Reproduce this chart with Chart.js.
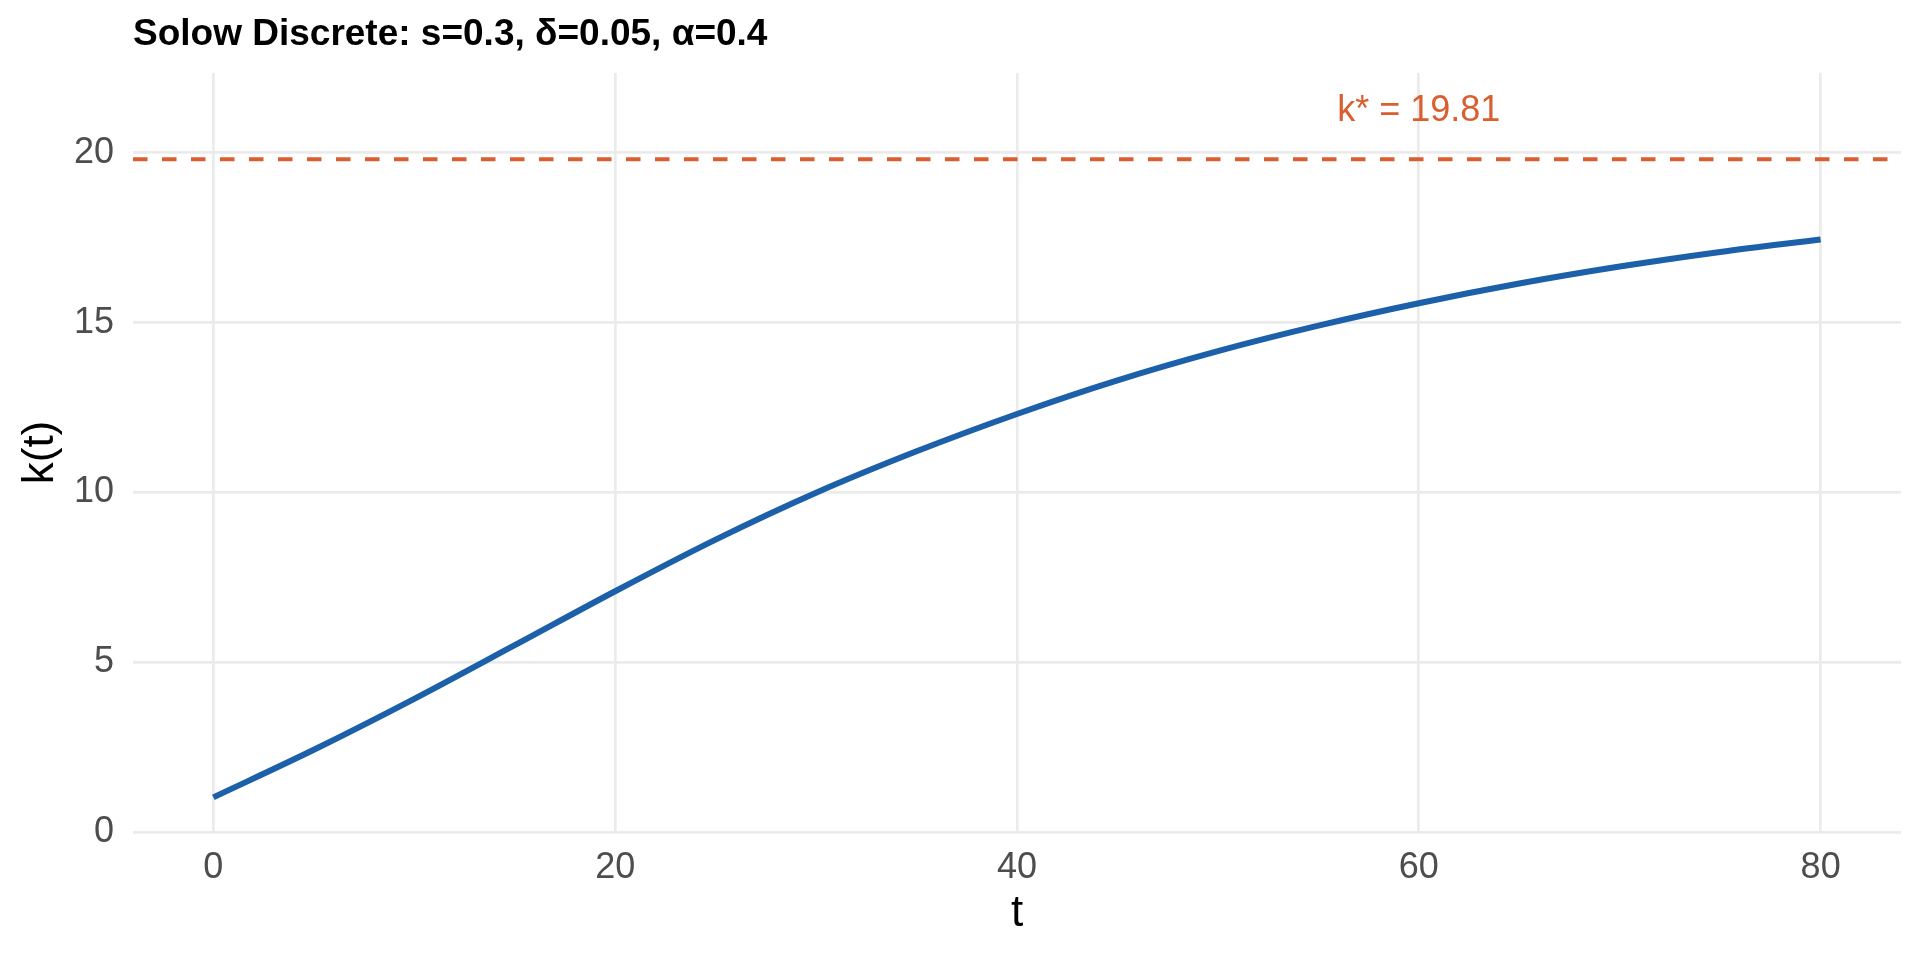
<!DOCTYPE html>
<html>
<head>
<meta charset="utf-8">
<title>Solow Discrete</title>
<script src="https://cdn.jsdelivr.net/npm/chart.js@4.4.1/dist/chart.umd.min.js"></script>
<style>
  html, body { margin: 0; padding: 0; background: #ffffff; }
  canvas { display: block; }
</style>
</head>
<body>
<canvas id="grafico" width="1920" height="960"></canvas>
<script>
// values
const tValues = [0, 5, 10, 15, 20, 25, 30, 35, 40, 45, 50, 55, 60, 65, 70, 75, 80];
const kValues = [1.02, 2.42, 3.92, 5.50, 7.09, 8.61, 9.99, 11.21, 12.31, 13.30, 14.16, 14.91, 15.57, 16.15, 16.65, 17.08, 17.45];
const kStar = 19.81;
const kLabelT = 60;
const kLabelY = 21.31;
const xTicks = [0, 20, 40, 60, 80];
const yTicks = [0, 5, 10, 15, 20];

const azul = '#1B60A8';
const laranja = '#D95F30';
const grade = '#EBEBEB';
const fonte = "'Liberation Sans', Arial, Helvetica, sans-serif";

const titulo = 'Solow Discrete: s=0.3, δ=0.05, α=0.4';
const rotuloK = 'k* = ' + kStar.toFixed(2);

const textos = {
    id: 'textos',
    afterDraw(chart) {
        const ctx = chart.ctx;
        const area = chart.chartArea;
        ctx.save();
        ctx.fillStyle = '#000000';
        ctx.font = 'bold 37px ' + fonte;
        ctx.textAlign = 'left';
        ctx.textBaseline = 'alphabetic';
        ctx.fillText(titulo, area.left, 45);

        const x = chart.scales.x.getPixelForValue(kLabelT);
        const y = chart.scales.y.getPixelForValue(kLabelY);
        ctx.fillStyle = laranja;
        ctx.font = '36px ' + fonte;
        ctx.textAlign = 'center';
        ctx.fillText(rotuloK, x, y + 12.9);
        ctx.restore();
    }
};

const ctx = document.getElementById('grafico').getContext('2d');
const grafico = new Chart(ctx, {
    type: 'line',
    data: {
        datasets: [{
            label: 'k(t)',
            data: tValues.map((t, i) => ({ x: t, y: kValues[i] })),
            borderColor: azul,
            borderWidth: 6,
            pointRadius: 0,
            cubicInterpolationMode: 'monotone',
            fill: false
        },
        {
            label: 'k*',
            data: [{ x: -4, y: kStar }, { x: 84, y: kStar }],
            borderColor: laranja,
            borderWidth: 4,
            borderDash: [14.5, 14.5],
            pointRadius: 0,
            fill: false
        }]
    },
    plugins: [textos],
    options: {
        responsive: false,
        animation: false,
        devicePixelRatio: 1,
        layout: {
            padding: { top: 73, right: 19, bottom: 0, left: 0 }
        },
        plugins: {
            legend: { display: false },
            tooltip: { enabled: false },
            title: { display: false }
        },
        scales: {
            x: {
                type: 'linear',
                min: -4,
                max: 84,
                afterBuildTicks: (s) => { s.ticks = xTicks.map(v => ({ value: v })); },
                afterFit: (s) => { s.height = 128; },
                grid: { color: grade, lineWidth: 2.7, drawTicks: false },
                border: { display: false },
                ticks: {
                    color: '#4D4D4D',
                    font: { family: fonte, size: 36 },
                    padding: 14,
                    maxRotation: 0
                },
                title: {
                    display: true,
                    text: 't',
                    color: '#000000',
                    font: { family: fonte, size: 44, lineHeight: 1.2 },
                    padding: { top: 0, bottom: 19.6 }
                }
            },
            y: {
                type: 'linear',
                min: 0,
                max: 22.35,
                afterBuildTicks: (s) => { s.ticks = yTicks.map(v => ({ value: v })); },
                afterFit: (s) => { s.width = 133; },
                grid: { color: grade, lineWidth: 2.7, drawTicks: false },
                border: { display: false },
                ticks: {
                    color: '#4D4D4D',
                    font: { family: fonte, size: 36 },
                    padding: 19
                },
                title: {
                    display: true,
                    text: 'k(t)',
                    color: '#000000',
                    font: { family: fonte, size: 44, lineHeight: 1.2 },
                    padding: { top: 14.6, bottom: 0 }
                }
            }
        }
    }
});
</script>
</body>
</html>
